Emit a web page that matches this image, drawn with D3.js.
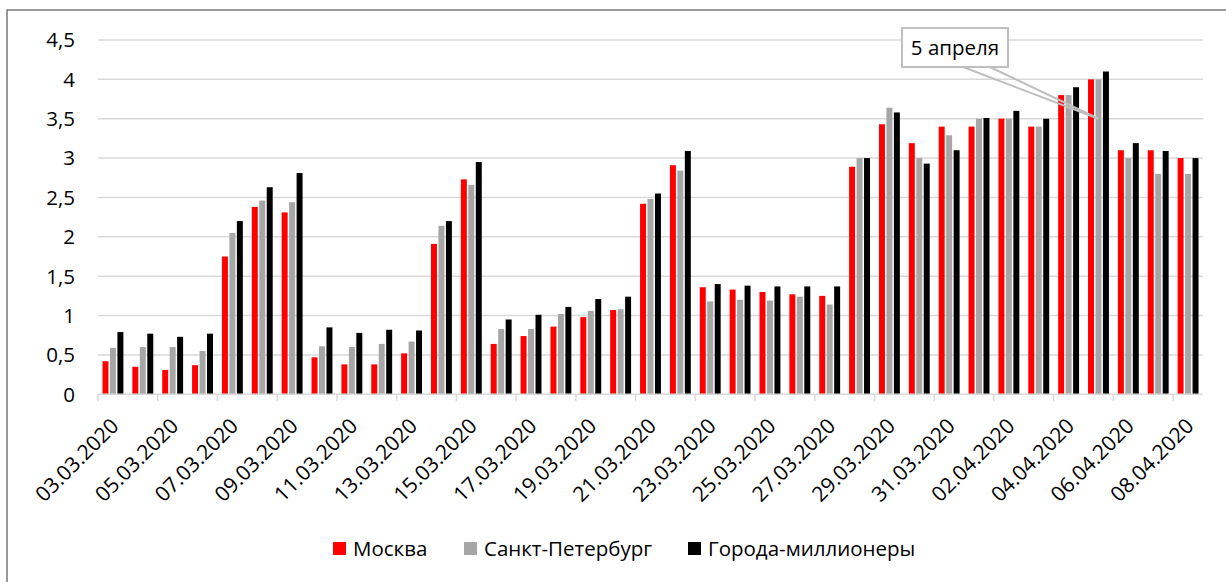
<!DOCTYPE html>
<html><head><meta charset="utf-8">
<script src="https://cdn.jsdelivr.net/npm/d3@7"></script>
<style>
html,body{margin:0;padding:0;background:#fff;}
svg{display:block;font-family:"Open Sans","Noto Sans",sans-serif;}
</style></head>
<body><svg id="c" width="1226" height="582"></svg>
<script>
const dates = ["03.03.2020","04.03.2020","05.03.2020","06.03.2020","07.03.2020","08.03.2020","09.03.2020","10.03.2020","11.03.2020","12.03.2020","13.03.2020","14.03.2020","15.03.2020","16.03.2020","17.03.2020","18.03.2020","19.03.2020","20.03.2020","21.03.2020","22.03.2020","23.03.2020","24.03.2020","25.03.2020","26.03.2020","27.03.2020","28.03.2020","29.03.2020","30.03.2020","31.03.2020","01.04.2020","02.04.2020","03.04.2020","04.04.2020","05.04.2020","06.04.2020","07.04.2020","08.04.2020"];
const seriesNames = ["Москва","Санкт-Петербург","Города-миллионеры"];
const colors = ["#ff0000","#a6a6a6","#000000"];
const moscow = [0.42,0.35,0.31,0.37,1.75,2.38,2.31,0.47,0.38,0.38,0.52,1.91,2.73,0.64,0.74,0.86,0.98,1.07,2.42,2.91,1.36,1.33,1.30,1.27,1.25,2.89,3.43,3.19,3.40,3.40,3.50,3.40,3.80,4.00,3.10,3.10,3.00];
const spb    = [0.59,0.60,0.60,0.55,2.05,2.46,2.44,0.61,0.60,0.64,0.67,2.14,2.66,0.83,0.83,1.02,1.06,1.08,2.48,2.84,1.18,1.20,1.19,1.24,1.14,3.00,3.64,3.00,3.29,3.50,3.50,3.40,3.80,4.00,3.00,2.80,2.80];
const cities = [0.79,0.77,0.73,0.77,2.20,2.63,2.81,0.85,0.78,0.82,0.81,2.20,2.95,0.95,1.01,1.11,1.21,1.24,2.55,3.09,1.40,1.38,1.37,1.37,1.37,3.00,3.58,2.93,3.10,3.51,3.60,3.50,3.90,4.10,3.19,3.09,3.00];
const yTicks = [0,0.5,1,1.5,2,2.5,3,3.5,4,4.5];
const calloutText = "5 апреля";
const calloutDate = "05.04.2020";
const calloutSeries = "Санкт-Петербург";
const calloutValue = 3.5;

const values = [moscow, spb, cities];
const svg = d3.select("#c");

// chart frame
svg.append("rect").attr("x",7).attr("y",10).attr("width",1240).attr("height",600)
  .attr("fill","none").attr("stroke","#7a7a7a").attr("stroke-width",1.5);

const x0 = d3.scaleBand().domain(dates).range([98,1203]).paddingInner(0).paddingOuter(0);
const x1 = d3.scaleBand().domain(seriesNames).range([0,x0.bandwidth()]).paddingInner(0.2).paddingOuter(0.6);
const y = d3.scaleLinear().domain([0,4.5]).range([394.3,40]);
const fmt = v => String(v).replace(".", ",");

// gridlines
svg.append("g").selectAll("line").data(yTicks.filter(t=>t>0)).join("line")
  .attr("x1",98).attr("x2",1203).attr("y1",d=>y(d)).attr("y2",d=>y(d))
  .attr("stroke","#d9d9d9").attr("stroke-width",1.5);

// y labels
svg.append("g").selectAll("text").data(yTicks).join("text")
  .attr("x",75).attr("y",d=>y(d)).attr("dy","0.36em").attr("text-anchor","end")
  .attr("font-size",20.5).attr("fill","#000").text(fmt);

// bars
const groups = svg.append("g").selectAll("g").data(dates).join("g")
  .attr("transform",d=>`translate(${x0(d)},0)`);
groups.selectAll("rect").data((d,i)=>seriesNames.map((s,k)=>({s,k,v:values[k][i]}))).join("rect")
  .attr("x",d=>x1(d.s)).attr("width",x1.bandwidth())
  .attr("y",d=>y(d.v)).attr("height",d=>y(0)-y(d.v))
  .attr("fill",d=>colors[d.k]);

// x axis line and ticks
svg.append("line").attr("x1",98).attr("x2",1203).attr("y1",y(0)).attr("y2",y(0))
  .attr("stroke","#d9d9d9").attr("stroke-width",1.5);
const labelDates = dates.filter((d,i)=>i%2===0);
svg.append("g").selectAll("line").data(labelDates).join("line")
  .attr("x1",d=>x0(d)).attr("x2",d=>x0(d)).attr("y1",y(0)).attr("y2",y(0)+7)
  .attr("stroke","#d9d9d9").attr("stroke-width",1.5);
svg.append("g").selectAll("text").data(labelDates).join("text")
  .attr("transform",d=>`translate(${x0(d)+x0.bandwidth()/2+7},${y(0)+33}) rotate(-45)`)
  .attr("text-anchor","end").attr("font-size",21).attr("fill","#000").text(d=>d);

// callout
const tipX = x0(calloutDate)+x1(calloutSeries)+x1.bandwidth()/2;
const tipY = y(calloutValue);
const cg = svg.append("g");
cg.append("line").attr("x1",963).attr("y1",67).attr("x2",tipX).attr("y2",tipY)
  .attr("stroke","#bfbfbf").attr("stroke-width",2);
cg.append("line").attr("x1",990).attr("y1",67).attr("x2",tipX).attr("y2",tipY)
  .attr("stroke","#bfbfbf").attr("stroke-width",2);
cg.append("rect").attr("x",902).attr("y",28).attr("width",106).attr("height",39)
  .attr("fill","#fff").attr("stroke","#bfbfbf").attr("stroke-width",2);
cg.append("text").attr("x",955).attr("y",55).attr("text-anchor","middle")
  .attr("font-size",20.5).attr("fill","#000").text(calloutText);

// legend
const legX = [333,464,688];
const lg = svg.append("g").selectAll("g").data(seriesNames).join("g")
  .attr("transform",(d,i)=>`translate(${legX[i]},542)`);
lg.append("rect").attr("width",13).attr("height",13).attr("fill",(d,i)=>colors[i]);
lg.append("text").attr("x",20).attr("y",14).attr("font-size",20.5).attr("fill","#000").text(d=>d);
</script></body></html>
